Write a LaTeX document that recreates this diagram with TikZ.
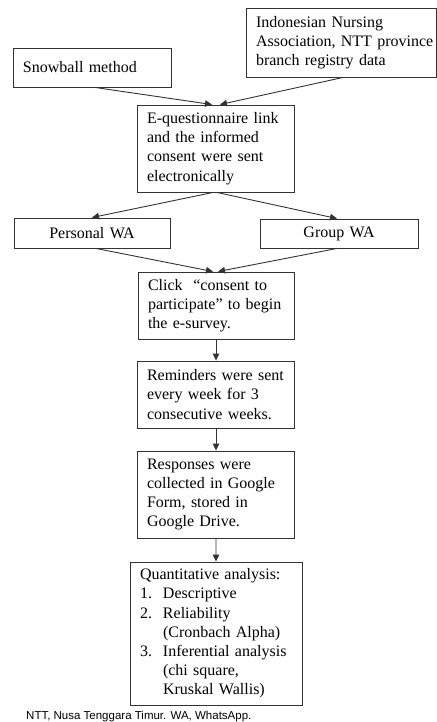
\documentclass[tikz,border=0pt]{standalone}
\usepackage{fontspec}
\setmainfont{Liberation Serif}
\newfontfamily\footfont{Liberation Sans}
\usetikzlibrary{arrows.meta}
\begin{document}
\begin{tikzpicture}[x=1bp,y=-1bp,
  box/.style={draw=black!80, line width=0.9bp, inner xsep=10bp, inner ysep=2bp,
    align=left, font=\fontsize{16bp}{19.2bp}\selectfont},
  cbox/.style={box, align=center},
  arr/.style={draw=black!80, line width=0.9bp, -{Triangle[length=7bp,width=6.5bp]}}]
\useasboundingbox (0,0) rectangle (437,722);
\node[box, text width=138bp, minimum height=39bp] (snow) at (92,67.5) {Snowball method};
\node[box, text width=170.5bp, minimum height=69bp] (ind) at (341.25,42.5)
  {\mbox{Indonesian Nursing}\\\mbox{Association, NTT province}\\\mbox{branch registry data}};
\node[box, text width=137bp, minimum height=87bp] (eq) at (215.5,148.5)
  {E-questionnaire link\\and the informed\\consent were sent\\electronically};
\node[cbox, text width=136bp, minimum height=30bp] (pers) at (92,233) {Personal WA};
\node[cbox, text width=138bp, minimum height=29bp] (grp) at (339,233.5) {Group WA};
\node[box, text width=136bp, minimum height=67bp] (clk) at (216,305.5)
  {Click\ \ “consent to\\participate” to begin\\the e-survey.};
\node[box, text width=137bp, minimum height=67bp] (rem) at (215.5,394.5)
  {Reminders were sent\\every week for 3\\consecutive weeks.};
\node[box, text width=137bp, minimum height=87bp] (resp) at (215.5,494.5)
  {Responses were\\collected in Google\\Form, stored in\\Google Drive.};
\node[box, text width=152bp, minimum height=143bp] (quant) at (216,633.5)
  {Quantitative analysis:\\
   \makebox[23bp][l]{1.}Descriptive\\
   \makebox[23bp][l]{2.}Reliability\\
   \hspace*{23bp}(Cronbach Alpha)\\
   \makebox[23bp][l]{3.}\mbox{Inferential analysis}\\
   \hspace*{23bp}(chi square,\\
   \hspace*{23bp}Kruskal Wallis)};
\node[anchor=base west, inner sep=0pt, font=\footfont\fontsize{11.5bp}{13bp}\selectfont]
  (foot) at (26,719) {NTT, Nusa Tenggara Timur. WA, WhatsApp.};
\draw[arr] ([xshift=3bp]snow.south) -- ([xshift=-3.5bp]eq.north);
\draw[arr] ([xshift=1.75bp]ind.south) -- ([xshift=4.5bp]eq.north);
\draw[arr] ([xshift=-2.5bp]eq.south) -- (pers.north);
\draw[arr] ([xshift=1.5bp]eq.south) -- ([xshift=-2bp]grp.north);
\draw[arr] ([xshift=4bp]pers.south) -- ([xshift=-3bp]clk.north);
\draw[arr] ([xshift=-2bp]grp.south) -- ([xshift=2bp]clk.north);
\draw[arr] (clk.south) -- (clk.south |- rem.north);
\draw[arr] ([xshift=0.5bp]rem.south) -- ([xshift=0.5bp]resp.north);
\draw[arr] ([xshift=0.5bp]resp.south) -- (quant.north);
\end{tikzpicture}
\end{document}
